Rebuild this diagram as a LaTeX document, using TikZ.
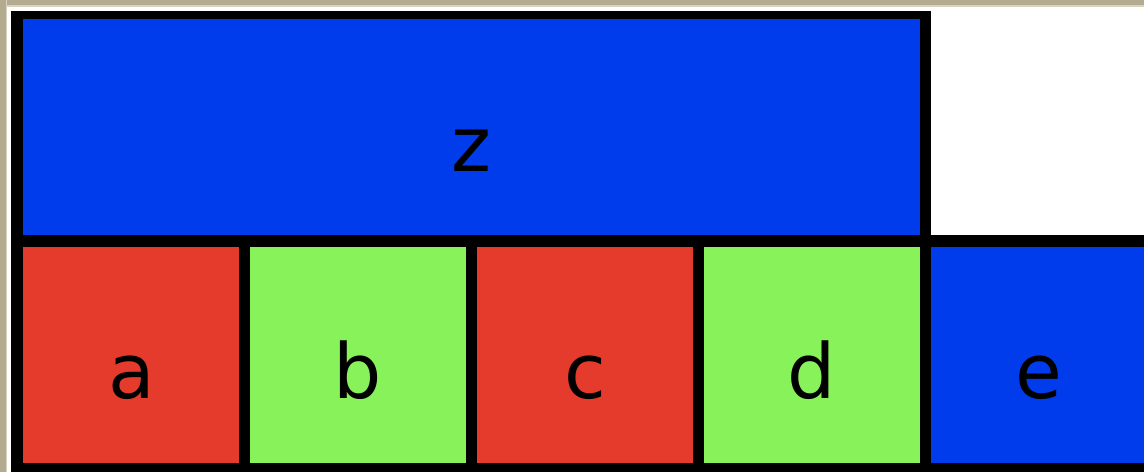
\documentclass[tikz,border=0pt]{standalone}
\usepackage{fontspec}
\setmainfont{DejaVu Sans}
\definecolor{cblue}{HTML}{003CEB}
\definecolor{cred}{HTML}{E43B2C}
\definecolor{cgreen}{HTML}{88F25A}
\definecolor{beige}{HTML}{B3AA90}
\definecolor{beigelt}{HTML}{D8D2C2}
\begin{document}
\begin{tikzpicture}[x=1pt,y=-1pt,
  cell/.style={inner sep=0pt, outer sep=0pt, minimum width=216pt, minimum height=216pt},
  lbl/.style={inner sep=0pt, anchor=base, font=\fontsize{76}{76}\selectfont}]
\useasboundingbox (0,0) rectangle (1144,472);
% screenshot edge
\fill[white] (0,0) rectangle (1144,472);
\fill[beigelt] (0,0) rectangle (1144,6.5);
\fill[beige] (0,0) rectangle (1144,5);
\fill[beigelt] (0,0) rectangle (7,472);
\fill[beige] (0,0) rectangle (5.5,472);
% black grid background
\fill[black] (11,11) rectangle (931,472);
\fill[black] (931,235) rectangle (1144,472);
% cells
\node[cell, fill=cblue, minimum width=897pt] (z) at (471.5,127) {};
\node[cell, fill=cred]   (a) at (131,355) {};
\node[cell, fill=cgreen] (b) at (358,355) {};
\node[cell, fill=cred]   (c) at (585,355) {};
\node[cell, fill=cgreen] (d) at (812,355) {};
\node[cell, fill=cblue, minimum width=213pt, anchor=west] (e) at (931,355) {};
% labels
\node[lbl] (lz) at (471,171) {z};
\node[lbl] (la) at (132,398) {a};
\node[lbl] (lb) at (358,398) {b};
\node[lbl] (lc) at (585,398) {c};
\node[lbl] (ld) at (812,398) {d};
\node[lbl] (le) at (1039,398) {e};
\end{tikzpicture}
\end{document}
